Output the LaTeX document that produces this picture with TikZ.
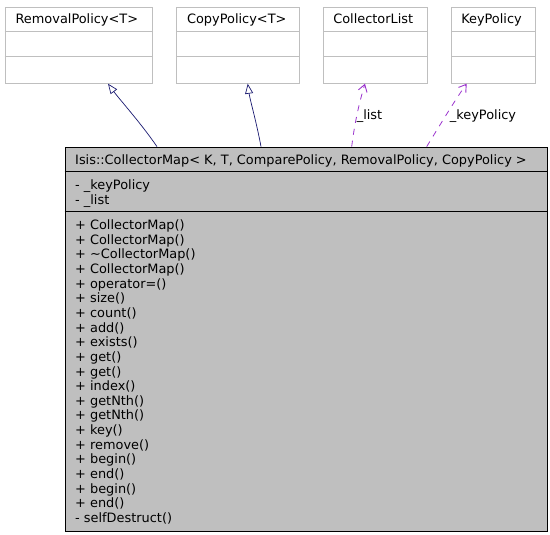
\documentclass[tikz,border=0pt]{standalone}
\usepackage{fontspec}
\setmainfont{DejaVu Sans}
\usetikzlibrary{arrows.meta}
\definecolor{boxgray}{HTML}{BFBFBF}
\definecolor{edgeblue}{HTML}{191970}
\definecolor{edgepurple}{HTML}{9A32CD}
\begin{document}
\begin{tikzpicture}[x=1pt,y=-1pt,
  font=\fontsize{12.9}{14.65}\selectfont,
  topbox/.style={draw=boxgray, line width=0.8pt, fill=white, rectangle, inner sep=0pt, minimum height=76pt},
  mainbox/.style={draw=black, line width=0.8pt, fill=boxgray, rectangle, inner sep=0pt},
  divgray/.style={draw=boxgray, line width=0.8pt},
  divblack/.style={draw=black, line width=0.8pt},
  txt/.style={inner sep=0pt, anchor=base west},
  ctxt/.style={inner sep=0pt, anchor=base},
  inherit/.style={draw=edgeblue, line width=0.7pt, -{Triangle[open, length=10pt, width=8pt, fill=white]}},
  usage/.style={draw=edgepurple, line width=0.8pt, dash pattern=on 6pt off 6pt, -{Straight Barb[length=7pt, width=9pt, line width=0.9pt]}},
  elabel/.style={inner sep=0pt, anchor=center}
]
\useasboundingbox (0,0) rectangle (550,535);
% top classes
\node[topbox, minimum width=147.7pt] (rp) at (78.85,45.3) {};
\node[topbox, minimum width=122.5pt] (cp) at (237.75,45.3) {};
\node[topbox, minimum width=103.5pt] (cl) at (375.25,45.3) {};
\node[topbox, minimum width=83.6pt] (kp) at (493.5,45.3) {};
\foreach \b in {rp,cp,cl,kp}{
  \draw[divgray] ([yshift=-25pt]\b.north west) -- ([yshift=-25pt]\b.north east);
  \draw[divgray] ([yshift=-50pt]\b.north west) -- ([yshift=-50pt]\b.north east);
}
\node[ctxt] (rpt) at ([xshift=-2pt,yshift=-16.9pt]rp.north) {RemovalPolicy<T>};
\node[ctxt] (cpt) at ([xshift=-1pt,yshift=-16.9pt]cp.north) {CopyPolicy<T>};
\node[ctxt] (clt) at ([xshift=-2pt,yshift=-16.9pt]cl.north) {CollectorList};
\node[ctxt] (kpt) at ([xshift=-2pt,yshift=-16.9pt]kp.north) {KeyPolicy};
% main class
\node[mainbox, minimum width=482pt, minimum height=384pt] (cm) at (306,339) {};
\draw[divblack] ([yshift=-25.3pt]cm.north west) -- ([yshift=-25.3pt]cm.north east);
\draw[divblack] ([yshift=-65.3pt]cm.north west) -- ([yshift=-65.3pt]cm.north east);
\node[txt] (cmt) at (75,164.7) {Isis::CollectorMap< K, T, ComparePolicy, RemovalPolicy, CopyPolicy >};
\node[txt] (a1) at (75,189.4) {- \_keyPolicy};
\node[txt] (a2) at (75,204.05) {- \_list};
\foreach \m [count=\i from 0] in {%
  + CollectorMap(),+ CollectorMap(),+ \char"007E CollectorMap(),+ CollectorMap(),%
  + operator=(),+ size(),+ count(),+ add(),+ exists(),+ get(),+ get(),%
  + index(),+ getNth(),+ getNth(),+ key(),+ remove(),+ begin(),+ end(),%
  + begin(),+ end(),- selfDestruct()}{
  \node[txt] (m\i) at (75,229.5+14.65*\i) {\m};
}
% edges
\draw[inherit] ([xshift=-149pt]cm.north) .. controls (140,122) and (120,100) .. ([xshift=29.15pt]rp.south);
\draw[inherit] ([xshift=-45pt]cm.north) .. controls (256,120) and (250,100) .. ([xshift=10pt]cp.south);
\draw[usage] ([xshift=45.7pt]cm.north) .. controls (355,120) and (360,100) .. ([xshift=-10.25pt]cl.south);
\draw[usage] ([xshift=120.7pt]cm.north) .. controls (440,125) and (455,100) .. ([xshift=-26.8pt]kp.south);
\node[elabel] (ll) at (369.5,116) {\_list};
\node[elabel] (kl) at (483,116) {\_keyPolicy};
\end{tikzpicture}
\end{document}
